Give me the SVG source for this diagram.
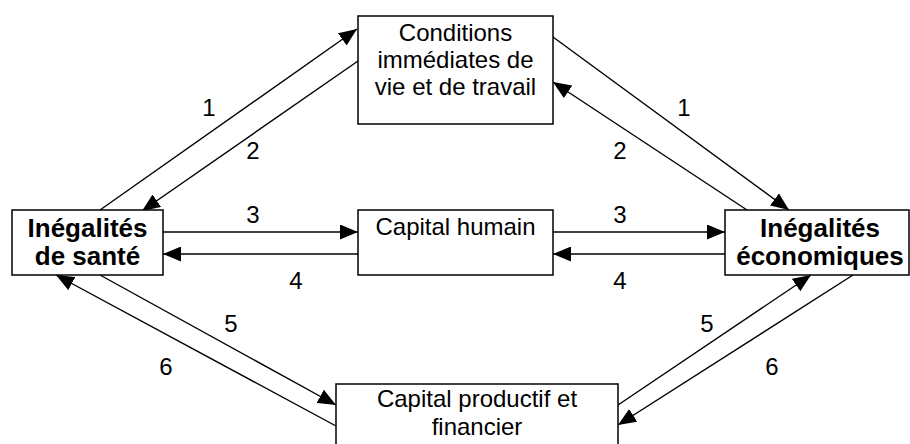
<svg xmlns="http://www.w3.org/2000/svg" width="910" height="444" viewBox="0 0 910 444">
<defs>
<marker id="ah" markerUnits="userSpaceOnUse" markerWidth="19" markerHeight="15" refX="18" refY="7.5" orient="auto">
<path d="M0,0 L18,7.5 L0,15 z" fill="#000"/>
</marker>
<style>
.box{fill:#fff;stroke:#000;stroke-width:1.5}
.t{font-family:"Liberation Sans",Arial,sans-serif;font-size:24px;fill:#000;text-anchor:middle}
.b{font-family:"Liberation Sans",Arial,sans-serif;font-size:26px;font-weight:bold;fill:#000;text-anchor:middle}
.n{font-family:"Liberation Sans",Arial,sans-serif;font-size:24px;fill:#000;text-anchor:middle}
.c line{stroke:#000;stroke-width:1.4;marker-end:url(#ah)}
</style>
</defs>
<rect width="910" height="444" fill="#fff"/>
<g id="connectors" class="c">
<line x1="100" y1="210" x2="357" y2="29"/>
<line x1="358" y1="61" x2="142" y2="211"/>
<line x1="163" y1="232" x2="358" y2="232"/>
<line x1="358" y1="254" x2="163" y2="254"/>
<line x1="553" y1="37" x2="789" y2="210"/>
<line x1="747" y1="210" x2="553" y2="82"/>
<line x1="553" y1="232" x2="725" y2="232"/>
<line x1="725" y1="254" x2="553" y2="254"/>
<line x1="100" y1="275" x2="336" y2="405"/>
<line x1="336" y1="426" x2="56" y2="275"/>
<line x1="618" y1="405" x2="811" y2="275"/>
<line x1="853" y1="275" x2="618" y2="425"/>
</g>
<g id="labels">
<text class="n" x="209" y="116">1</text>
<text class="n" x="253" y="159">2</text>
<text class="n" x="684" y="116">1</text>
<text class="n" x="620" y="159">2</text>
<text class="n" x="253" y="223">3</text>
<text class="n" x="620" y="223">3</text>
<text class="n" x="296" y="289">4</text>
<text class="n" x="620" y="289">4</text>
<text class="n" x="231" y="332">5</text>
<text class="n" x="166" y="375">6</text>
<text class="n" x="707" y="332">5</text>
<text class="n" x="772" y="375">6</text>
</g>
<g id="conditions">
<rect class="box" x="358" y="16" width="195" height="108"/>
<text class="t" x="455.5" y="41">Conditions</text>
<text class="t" x="455.5" y="68">immédiates de</text>
<text class="t" x="455.5" y="95">vie et de travail</text>
</g>
<g id="inegalites-sante">
<rect class="box" x="12" y="210" width="151" height="65"/>
<text class="b" x="87.5" y="237">Inégalités</text>
<text class="b" x="87.5" y="265">de santé</text>
</g>
<g id="capital-humain">
<rect class="box" x="358" y="210" width="195" height="65"/>
<text class="t" x="455.5" y="235">Capital humain</text>
</g>
<g id="inegalites-economiques">
<rect class="box" x="725" y="210" width="184" height="65"/>
<text class="b" x="820" y="237">Inégalités</text>
<text class="b" x="820" y="265">économiques</text>
</g>
<g id="capital-productif">
<rect class="box" x="336" y="384" width="282" height="70"/>
<text class="t" x="477" y="407">Capital productif et</text>
<text class="t" x="477" y="435">financier</text>
</g>
</svg>
